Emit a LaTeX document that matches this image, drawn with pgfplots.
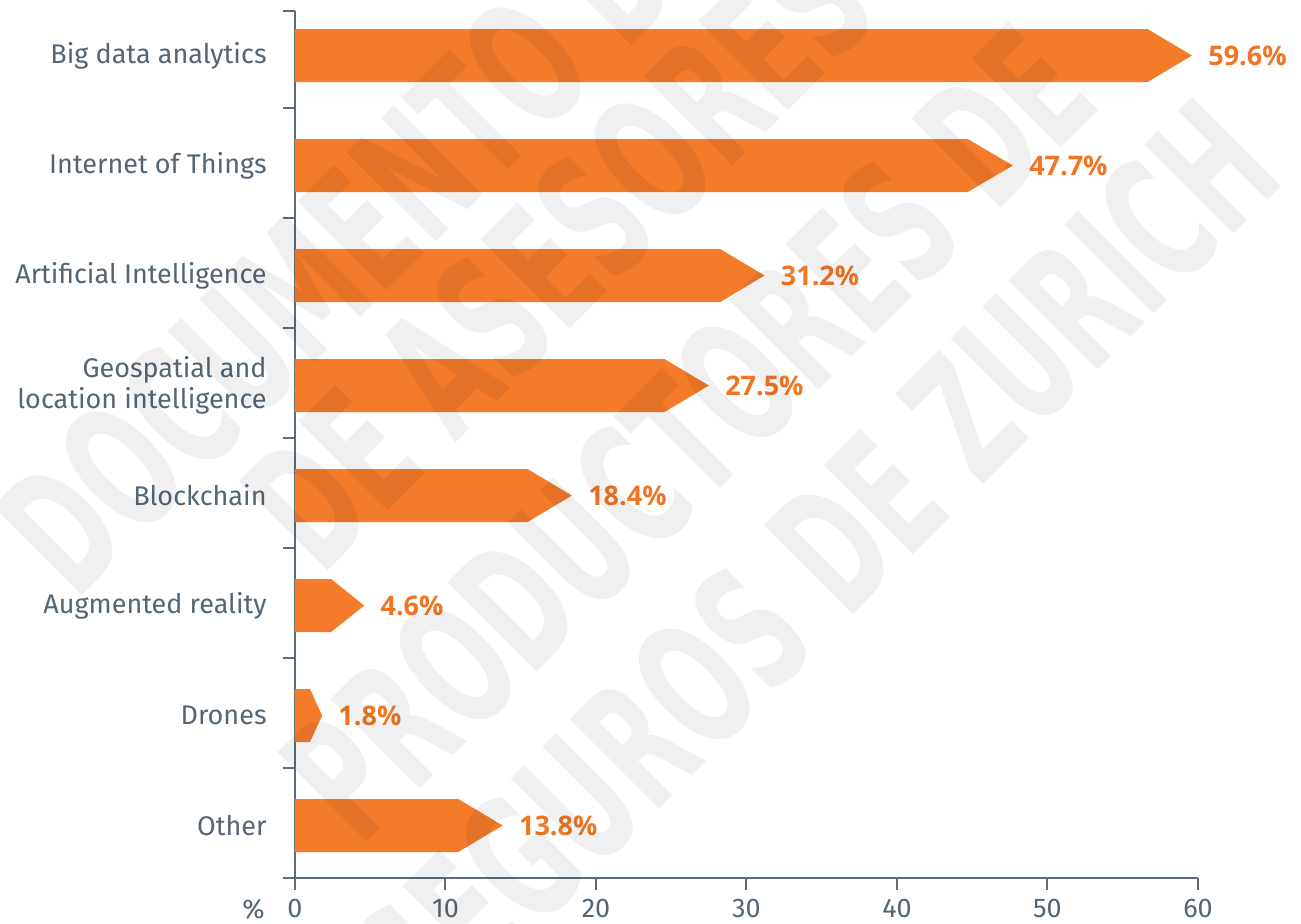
\documentclass[border=0pt]{standalone}
\usepackage{fontspec}
\setmainfont{Fira Sans}
\newfontfamily\valfont{Open Sans}
\newfontfamily\wmfont{DejaVu Sans}
\usepackage{graphicx}
\usepackage{pgfplots}
\pgfplotsset{compat=1.18}
\usetikzlibrary{calc}
\definecolor{barorange}{RGB}{244,123,42}
\definecolor{valorange}{RGB}{240,118,38}
\definecolor{axcol}{RGB}{92,108,122}
\definecolor{labcol}{RGB}{84,101,116}
\tikzset{valstyle/.style={anchor=west, inner sep=0pt, xshift=8pt, text=valorange,
  font=\valfont\bfseries\fontsize{13.5pt}{15pt}\selectfont},
  wm/.style={rotate=45, inner sep=0pt, anchor=center, text=black, text opacity=0.06,
  font=\wmfont\bfseries\fontsize{86.5pt}{90pt}\selectfont}}
\begin{document}
\begin{tikzpicture}
\begin{axis}[
  name=ax, at={(0,0)}, anchor=south west,
  scale only axis, width=451.5pt, height=433.5pt,
  xmin=0, xmax=60, ymin=-0.477, ymax=7.405,
  axis x line*=bottom, axis y line*=left,
  axis line style={draw=axcol, line width=1pt, -},
  tick style={draw=axcol, line width=1pt},
  tick align=outside, major tick length=6pt,
  xtick={0,10,...,60},
  ytick={-0.477,0.523,1.523,2.523,3.523,4.523,5.523,6.523,7.405},
  yticklabels={},
  extra y ticks={0,1,2,3,4,5,6,7},
  extra y tick labels={Other,Drones,Augmented reality,Blockchain,{Geospatial and\\location intelligence},Artificial Intelligence,Internet of Things,Big data analytics},
  extra y tick style={major tick length=0pt,
    yticklabel style={anchor=east, inner sep=0pt, xshift=-14pt, align=right}},
  /pgf/number format/assume math mode=true,
  ticklabel style={font=\fontsize{13.5pt}{15.5pt}\selectfont, text=labcol},
  xticklabel style={anchor=north, inner sep=0pt, yshift=-4.5pt},
  clip=false,
]
\coordinate (SW) at (rel axis cs:0,0);
% arrow-shaped bars: (0,y-h) (body,y-h) (value,y) (body,y+h) (0,y+h)
\addplot[fill=barorange, draw=none] coordinates {(0,6.759) (56.65,6.759) (59.6,7) (56.65,7.241) (0,7.241)} -- cycle;
\addplot[fill=barorange, draw=none] coordinates {(0,5.759) (44.7,5.759) (47.7,6) (44.7,6.241) (0,6.241)} -- cycle;
\addplot[fill=barorange, draw=none] coordinates {(0,4.759) (28.25,4.759) (31.2,5) (28.25,5.241) (0,5.241)} -- cycle;
\addplot[fill=barorange, draw=none] coordinates {(0,3.759) (24.55,3.759) (27.5,4) (24.55,4.241) (0,4.241)} -- cycle;
\addplot[fill=barorange, draw=none] coordinates {(0,2.759) (15.45,2.759) (18.4,3) (15.45,3.241) (0,3.241)} -- cycle;
\addplot[fill=barorange, draw=none] coordinates {(0,1.759) (2.4,1.759) (4.6,2) (2.4,2.241) (0,2.241)} -- cycle;
\addplot[fill=barorange, draw=none] coordinates {(0,0.759) (1.0,0.759) (1.8,1) (1.0,1.241) (0,1.241)} -- cycle;
\addplot[fill=barorange, draw=none] coordinates {(0,-0.241) (10.85,-0.241) (13.8,0) (10.85,0.241) (0,0.241)} -- cycle;
\node[valstyle] at (axis cs:59.6,7) {59.6\%};
\node[valstyle] at (axis cs:47.7,6) {47.7\%};
\node[valstyle] at (axis cs:31.2,5) {31.2\%};
\node[valstyle] at (axis cs:27.5,4) {27.5\%};
\node[valstyle] at (axis cs:18.4,3) {18.4\%};
\node[valstyle] at (axis cs:4.6,2) {4.6\%};
\node[valstyle] at (axis cs:1.8,1) {1.8\%};
\node[valstyle] at (axis cs:13.8,0) {13.8\%};
\end{axis}
\node[anchor=north east, inner sep=0pt, text=labcol, font=\fontsize{13.5pt}{15.5pt}\selectfont] at ($(SW)+(-15pt,-10.5pt)$) {\%};
% watermark
\node[wm] at ($(SW)+(33pt,325pt)$) {\scalebox{0.59}[1]{DOCUMENTO DE}};
\node[wm] at ($(SW)+(165pt,346.5pt)$) {\scalebox{0.59}[1]{DE ASESORES DE}};
\node[wm] at ($(SW)+(196.5pt,223pt)$) {\scalebox{0.59}[1]{PRODUCTORES DE}};
\node[wm] at ($(SW)+(260.5pt,157.5pt)$) {\scalebox{0.59}[1]{SEGUROS DE ZURICH}};
\pgfresetboundingbox
\path[use as bounding box] ($(SW)+(-147.5pt,-23pt)$) rectangle ($(SW)+(503pt,439pt)$);
\end{tikzpicture}
\end{document}
